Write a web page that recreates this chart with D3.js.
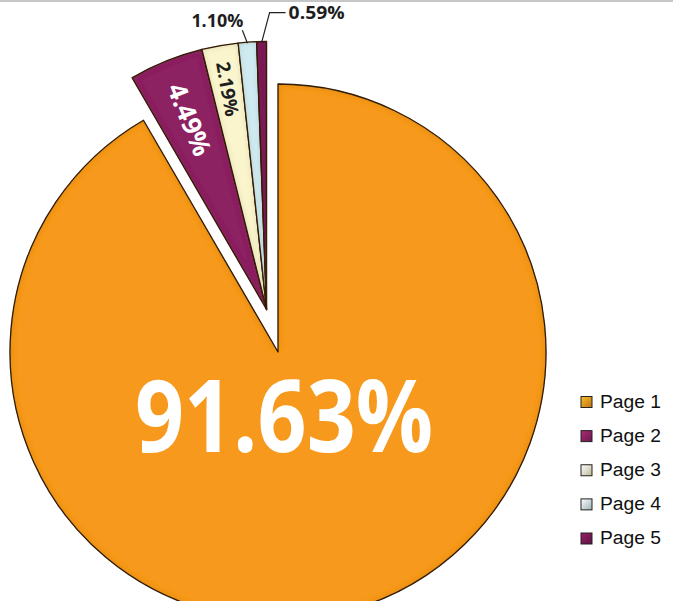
<!DOCTYPE html>
<html>
<head>
<meta charset="utf-8">
<script src="https://cdn.jsdelivr.net/npm/d3@7"></script>
<style>
html,body{margin:0;padding:0;background:#fff;overflow:hidden;}
svg{display:block;}
</style>
</head>
<body>
<svg id="chart" width="673" height="601"></svg>
<script>
// ---- data ----
const categories = ["Page 1", "Page 2", "Page 3", "Page 4", "Page 5"];
const values = [91.63, 4.49, 2.19, 1.10, 0.59];
const labels = ["91.63%", "4.49%", "2.19%", "1.10%", "0.59%"];
const colors = ["#F7991F", "#8C2262", "#FAF5CC", "#CFEBF1", "#7B1A56"];

const W = 673, H = 601;
const cx = 278, cy = 352, R = 268, explode = 44;

const svg = d3.select("#chart");
const defs = svg.append("defs");

// bevel / inner edge shading
const f = defs.append("filter").attr("id", "bevel").attr("x", "-5%").attr("y", "-5%").attr("width", "110%").attr("height", "110%");
f.append("feGaussianBlur").attr("in", "SourceAlpha").attr("stdDeviation", 3).attr("result", "blur");
f.append("feComposite").attr("in", "SourceAlpha").attr("in2", "blur").attr("operator", "arithmetic")
  .attr("k1", 0).attr("k2", 1).attr("k3", -1).attr("k4", 0).attr("result", "edge");
f.append("feFlood").attr("flood-color", "#5a2e00").attr("flood-opacity", 0.4).attr("result", "col");
f.append("feComposite").attr("in", "col").attr("in2", "edge").attr("operator", "in").attr("result", "shade");
const fm = f.append("feMerge");
fm.append("feMergeNode").attr("in", "SourceGraphic");
fm.append("feMergeNode").attr("in", "shade");

// legend square gradients
colors.forEach((c, i) => {
  const g = defs.append("linearGradient").attr("id", "lg" + i)
    .attr("x1", "0").attr("y1", "0").attr("x2", "1").attr("y2", "1");
  g.append("stop").attr("offset", "0%").attr("stop-color", d3.color(c).brighter(0.6));
  g.append("stop").attr("offset", "100%").attr("stop-color", d3.color(c).darker(0.8));
});

// top grey rule
svg.append("rect").attr("x", 0).attr("y", 0).attr("width", W).attr("height", 2).attr("fill", "#c6c6c6");

const pie = d3.pie().sort(null).value(d => d)(values);
const arc = d3.arc().innerRadius(0).outerRadius(R);

// exploded group of small slices shares one offset along the group's mid-angle
const grpStart = pie[1].startAngle, grpEnd = pie[pie.length - 1].endAngle;
const grpMid = (grpStart + grpEnd) / 2;
const ox = Math.sin(grpMid) * explode, oy = -Math.cos(grpMid) * explode;
function origin(i) { return i === 0 ? [cx, cy] : [cx + ox, cy + oy]; }
function polar(i, a, r) { const o = origin(i); return [o[0] + Math.sin(a) * r, o[1] - Math.cos(a) * r]; }

const gSlices = svg.append("g");
gSlices.selectAll("path").data(pie).enter().append("path")
  .attr("transform", (d, i) => `translate(${origin(i)})`)
  .attr("d", arc)
  .attr("fill", (d, i) => colors[i])
  .attr("stroke", "#2a1a08")
  .attr("stroke-width", 1.3)
  .attr("stroke-linejoin", "round")
  .attr("filter", "url(#bevel)");

// big label
svg.append("text")
  .attr("x", cx + 6).attr("y", 452)
  .attr("text-anchor", "middle")
  .attr("font-family", "'Open Sans', 'Noto Sans', sans-serif")
  .attr("font-weight", 700).attr("font-size", 100)
  .attr("textLength", 298).attr("lengthAdjust", "spacingAndGlyphs")
  .attr("fill", "#fff")
  .text(labels[0]);

// rotated inside labels (Page 2, Page 3)
const inside = [
  { i: 1, dist: 205, size: 26, len: 76, fill: "#ffffff" },
  { i: 2, dist: 224, size: 19, len: 55, fill: "#1e1e1e" }
];
inside.forEach(s => {
  const d = pie[s.i];
  const a = (d.startAngle + d.endAngle) / 2;
  const p = polar(s.i, a, s.dist);
  const rot = a * 180 / Math.PI - 270;
  svg.append("text")
    .attr("transform", `translate(${p[0]},${p[1]}) rotate(${rot})`)
    .attr("text-anchor", "middle").attr("dy", "0.36em")
    .attr("font-family", "'Open Sans', 'Noto Sans', sans-serif")
    .attr("font-weight", 700).attr("font-size", s.size)
    .attr("textLength", s.len).attr("lengthAdjust", "spacingAndGlyphs")
    .attr("fill", s.fill)
    .text(labels[s.i]);
});

// outside labels with leader lines (Page 4, Page 5)
const lineG = svg.append("g").attr("fill", "none").attr("stroke", "#222").attr("stroke-width", 1.2);
{
  const d = pie[3], a = (d.startAngle + d.endAngle) / 2;
  const p = polar(3, a, R);
  lineG.append("path").attr("d", d3.line()([[p[0], p[1] + 1], [p[0] - 5, p[1] - 12]]));
  svg.append("text").attr("x", p[0] - 30).attr("y", p[1] - 15)
    .attr("text-anchor", "middle")
    .attr("font-family", "'Open Sans', 'Noto Sans', sans-serif")
    .attr("font-weight", 700).attr("font-size", 18)
    .attr("textLength", 52).attr("lengthAdjust", "spacingAndGlyphs")
    .attr("fill", "#1e1e1e").text(labels[3]);
}
{
  const d = pie[4], a = (d.startAngle + d.endAngle) / 2;
  const p = polar(4, a, R);
  lineG.append("path").attr("d", d3.line()([[p[0], p[1] + 1], [p[0] + 8, p[1] - 29], [p[0] + 24, p[1] - 29]]));
  svg.append("text").attr("x", p[0] + 27).attr("y", p[1] - 23)
    .attr("text-anchor", "start")
    .attr("font-family", "'Open Sans', 'Noto Sans', sans-serif")
    .attr("font-weight", 700).attr("font-size", 18)
    .attr("textLength", 56).attr("lengthAdjust", "spacingAndGlyphs")
    .attr("fill", "#1e1e1e").text(labels[4]);
}

// legend
const ly = d3.scalePoint().domain(categories).range([407.5, 544]);
const leg = svg.append("g").selectAll("g").data(categories).enter().append("g")
  .attr("transform", d => `translate(581,${ly(d)})`);
leg.append("rect").attr("x", 0).attr("y", -11).attr("width", 11).attr("height", 11)
  .attr("fill", (d, i) => `url(#lg${i})`).attr("stroke", "#222").attr("stroke-width", 1);
leg.append("text").attr("x", 19).attr("y", 0)
  .attr("font-family", "'Liberation Sans', Arial, sans-serif")
  .attr("font-size", 18).attr("fill", "#111")
  .attr("textLength", 61).attr("lengthAdjust", "spacingAndGlyphs")
  .text(d => d);
</script>
</body>
</html>
